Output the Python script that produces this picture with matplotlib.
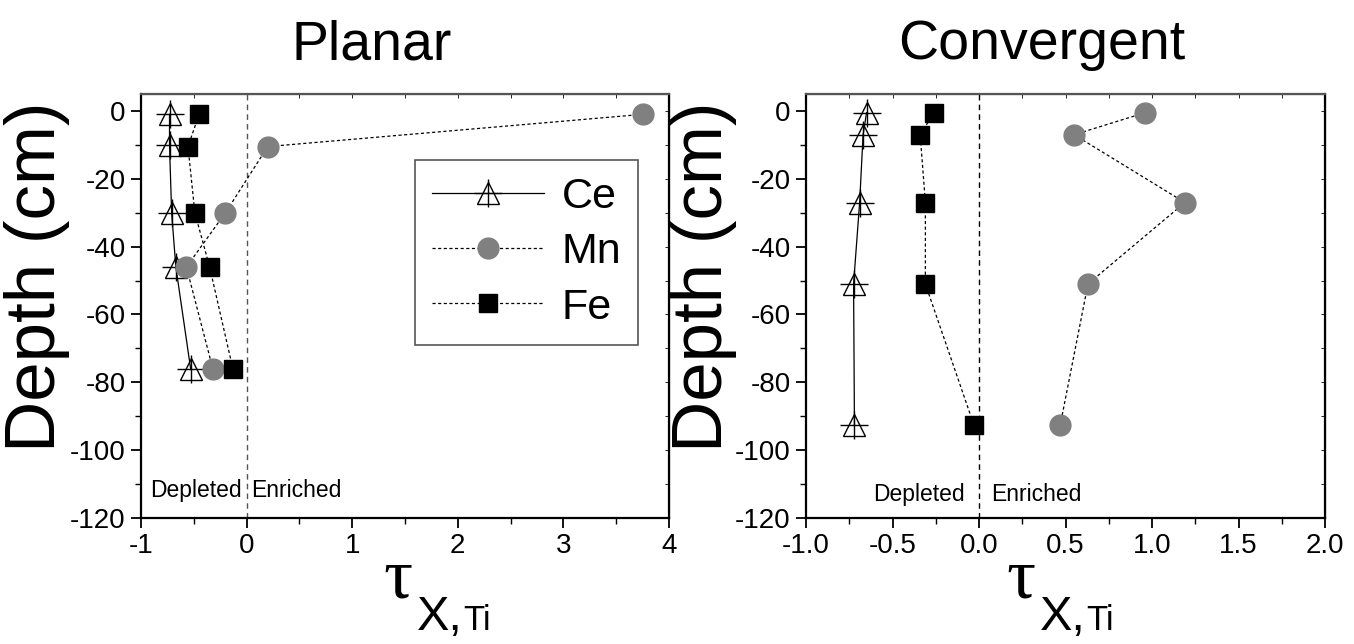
import matplotlib.pyplot as plt
from matplotlib.ticker import MultipleLocator
from matplotlib.legend_handler import HandlerTuple

plt.rcParams['font.family'] = ['Liberation Sans', 'DejaVu Sans']
plt.rcParams['axes.unicode_minus'] = False

# planar profile
pl_ce_x = [-0.73, -0.73, -0.71, -0.67, -0.53]
pl_ce_y = [-1, -10, -30, -46, -76]
pl_mn_x = [3.75, 0.20, -0.20, -0.57, -0.32]
pl_mn_y = [-1, -10.5, -30, -46, -76]
pl_fe_x = [-0.45, -0.555, -0.49, -0.35, -0.13]
pl_fe_y = [-1, -10.5, -30, -46, -76]

# convergent profile
cv_ce_x = [-0.65, -0.67, -0.69, -0.725, -0.72]
cv_ce_y = [-0.5, -7, -27, -51, -92.5]
cv_mn_x = [0.96, 0.55, 1.19, 0.63, 0.47]
cv_mn_y = [-0.5, -7, -27, -51, -92.5]
cv_fe_x = [-0.26, -0.34, -0.31, -0.31, -0.03]
cv_fe_y = [-0.5, -7, -27, -51, -92.5]

W, H = 1354, 644
fig = plt.figure(figsize=(W / 100, H / 100), dpi=100)

ax1 = fig.add_axes([141 / W, 1 - 518 / H, 528 / W, 424 / H])
ax2 = fig.add_axes([806 / W, 1 - 518 / H, 519 / W, 424 / H])

dots = (0, (2.5, 2))


def profile(ax, ce_x, ce_y, mn_x, mn_y, fe_x, fe_y):
    ce, = ax.plot(ce_x, ce_y, '-', color='black', lw=0.9, marker='^', ms=16,
                  mfc='none', mec='black', mew=1.0, zorder=3)
    cross, = ax.plot(ce_x, ce_y, ls='none', marker='+', ms=20, mec='black',
                     mew=1.0, zorder=3)
    mn, = ax.plot(mn_x, mn_y, ls=dots, color='black', lw=0.9, marker='o', ms=15,
                  mfc='#808080', mec='#808080', zorder=3)
    fe, = ax.plot(fe_x, fe_y, ls=dots, color='black', lw=0.9, marker='s', ms=13,
                  mfc='black', mec='black', zorder=3)
    return ce, cross, mn, fe


def style(ax, xlim, major, minor, label_x, fmt=None):
    ax.set_xlim(*xlim)
    ax.set_ylim(-120, 5)
    ax.xaxis.set_major_locator(MultipleLocator(major))
    ax.xaxis.set_minor_locator(MultipleLocator(minor))
    ax.yaxis.set_major_locator(MultipleLocator(20))
    ax.yaxis.set_minor_locator(MultipleLocator(10))
    if fmt:
        ax.xaxis.set_major_formatter(fmt)
    ax.tick_params(which='major', length=7, width=1.3, labelsize=20, pad=4)
    ax.tick_params(which='minor', length=4, width=1.0)
    for s in ax.spines.values():
        s.set_linewidth(1.6)
    ax.spines['top'].set_color('#555555')
    top = ax.secondary_xaxis('top')
    top.xaxis.set_major_locator(MultipleLocator(minor))
    top.tick_params(direction='in', length=3, width=0.6, labeltop=False)
    right = ax.secondary_yaxis('right')
    right.yaxis.set_major_locator(MultipleLocator(10))
    right.tick_params(direction='in', length=3, width=0.6, labelright=False)
    ax.set_ylabel('Depth (cm)', fontsize=51)
    ax.yaxis.set_label_coords(label_x, 0.568)


ce1, cr1, mn1, fe1 = profile(ax1, pl_ce_x, pl_ce_y, pl_mn_x, pl_mn_y, pl_fe_x, pl_fe_y)
ce2, cr2, mn2, fe2 = profile(ax2, cv_ce_x, cv_ce_y, cv_mn_x, cv_mn_y, cv_fe_x, cv_fe_y)

ax1.axvline(0, color='#555555', lw=1.0, ls=(0, (4, 3)), zorder=1)
ax2.axvline(0, color='black', lw=1.0, ls=(0, (4, 3)), zorder=1)

style(ax1, (-1, 4), 1, 0.5, -71 / 528)
style(ax2, (-1, 2), 0.5, 0.25, -69 / 519, '{x:.1f}')

ax1.text(-0.05, -112, 'Depleted', ha='right', va='center', fontsize=16.5)
ax1.text(0.04, -112, 'Enriched', ha='left', va='center', fontsize=16.5)
ax2.text(-0.08, -113, 'Depleted', ha='right', va='center', fontsize=16.5)
ax2.text(0.07, -113, 'Enriched', ha='left', va='center', fontsize=16.5)

leg = ax1.legend([(ce1, cr1), mn1, fe1], ['Ce', 'Mn', 'Fe'],
                 handler_map={tuple: HandlerTuple(ndivide=1, pad=0)},
                 loc='upper left', bbox_to_anchor=(0.519, 0.844),
                 borderaxespad=0, fontsize=31, handlelength=2.6,
                 handletextpad=0.4, labelspacing=0.35, borderpad=0.4,
                 fancybox=False, framealpha=1)
leg.get_frame().set_edgecolor('#555555')
leg.get_frame().set_linewidth(1.2)

fig.text(372 / W, 1 - 45 / H, 'Planar', ha='center', va='center', fontsize=40)
fig.text(1042 / W, 1 - 45 / H, 'Convergent', ha='center', va='center', fontsize=40)

# x axis labels: tau with a two-size subscript
for x0 in (383, 1006):
    fig.text(x0 / W, 1 - 597 / H, '\u03c4', fontsize=52, family='Liberation Serif',
             ha='left', va='baseline')
    fig.text((x0 + 34) / W, 1 - 630 / H, 'X,', fontsize=35, ha='left', va='baseline')
    fig.text((x0 + 80) / W, 1 - 630 / H, 'Ti', fontsize=25, ha='left', va='baseline')

fig.savefig('out.png', dpi=100)
